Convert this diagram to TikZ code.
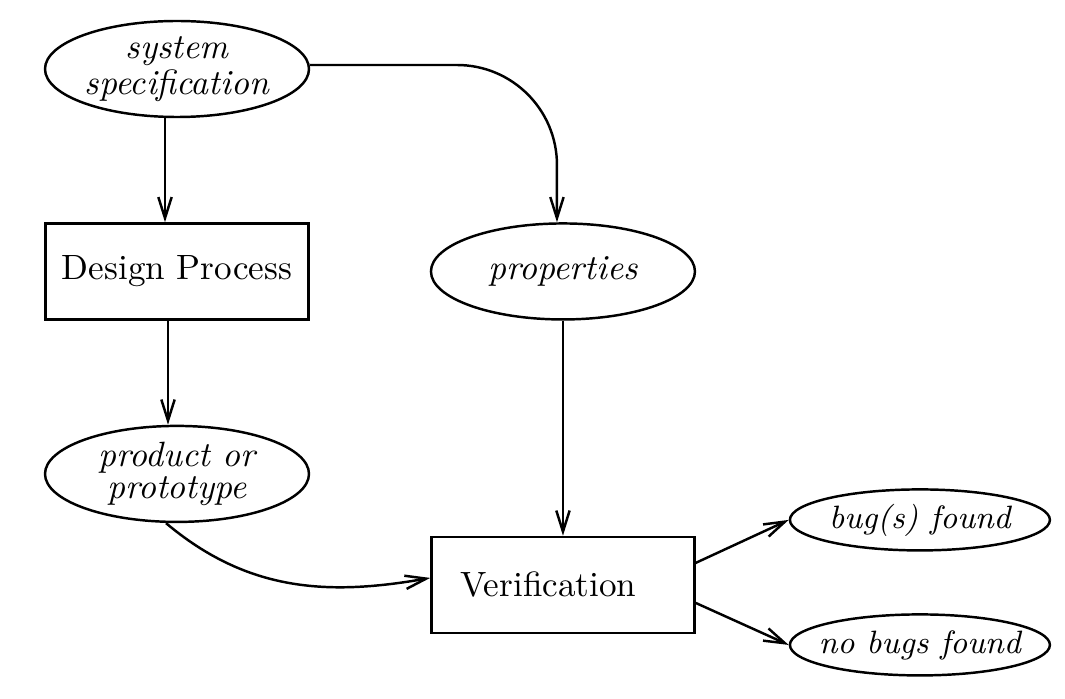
\documentclass[tikz,border=0pt]{standalone}
\usepackage{tikz}
\usetikzlibrary{arrows.meta,shapes.geometric,positioning}
\tikzset{
	oval/.style={
		draw,ellipse,inner sep=0pt,align=center, %two lines of italic text
		minimum width=2.64cm,minimum height=0.96cm,
		font=\itshape\fontsize{10}{9}\selectfont},
	res/.style={oval,minimum width=2.6cm,minimum height=0.61cm,
		inner xsep=-0.1cm,font=\itshape\fontsize{9.2}{9}\selectfont},
	proc/.style={draw,rectangle,minimum width=2.63cm,minimum height=0.96cm},
	flow/.style={-{Straight Barb[length=6pt,width=3.8pt]}}
}

\begin{document}
\begin{tikzpicture}[line width=0.7pt,node distance=1.04cm]
			\useasboundingbox (0,0) rectangle (10.65,-6.99);
			\node[oval] (spec) at (1.77,-0.69) {system\\specification};
			\node[proc,below=of spec] (design) {Design Process};
			\node[oval,below=of design] (prod) {product or\\prototype};
			\node[oval,right=1.2cm of design] (prop) {properties};
			\node[proc,below=2.15cm of prop,align=left,text width=2.05cm,inner xsep=0.29cm] (verif) {Verification};
			\node[res,right=0.93cm of verif,yshift=0.65cm] (bugs) {bug(s) found};
			\node[res,right=0.93cm of verif,yshift=-0.6cm] (nobugs) {no bugs found};
			% connectors
			\draw[flow] ([xshift=-0.12cm]spec.south) -- ([xshift=-0.12cm]design.north);
			\draw[flow] ([xshift=-0.09cm]design.south) -- ([xshift=-0.09cm]prod.north);
			\draw[flow,rounded corners=1cm] ([yshift=0.04cm]spec.east) -| ([xshift=-0.06cm]prop.north);
			\draw[flow] (prop) -- (verif);
			\draw[flow] ([xshift=-0.11cm]prod.south) to[out=-40,in=190] ([yshift=0.07cm]verif.west);
			\draw[flow] ([yshift=0.22cm]verif.east) -- (bugs.west);
			\draw[flow] ([yshift=-0.18cm]verif.east) -- (nobugs.west);
\end{tikzpicture}
\end{document}
